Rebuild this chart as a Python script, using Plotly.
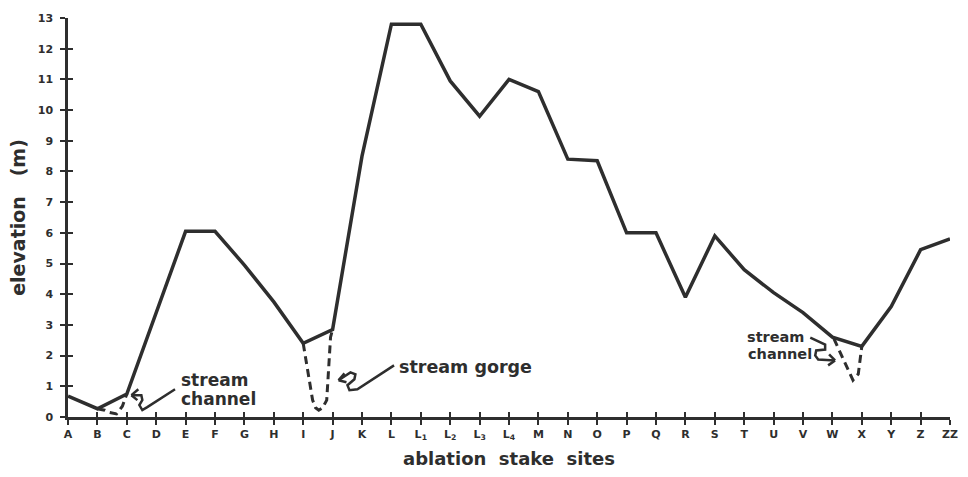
import plotly.graph_objects as go

sites = ["A","B","C","D","E","F","G","H","I","J","K","L",
         "L<sub>1</sub>","L<sub>2</sub>","L<sub>3</sub>","L<sub>4</sub>",
         "M","N","O","P","Q","R","S","T","U","V","W","X","Y","Z","ZZ"]
elevation = [0.68, 0.27, 0.75, 3.4, 6.05, 6.05, 4.95, 3.75, 2.4, 2.85, 8.5, 12.8,
             12.8, 10.95, 9.8, 11.0, 10.6, 8.4, 8.35, 6.0, 6.0, 3.9, 5.9, 4.8,
             4.05, 3.4, 2.6, 2.3, 3.6, 5.45, 5.8]
y_ticks = list(range(0, 14))

# dashed stream channel / gorge profiles (position index along sites, elevation m)
channel_bc_x = [1.0, 1.25, 1.4, 1.65, 1.85, 2.0]
channel_bc_y = [0.27, 0.22, 0.15, 0.1, 0.35, 0.75]
gorge_x = [8.0, 8.32, 8.42, 8.53, 8.66, 8.8, 8.93, 9.0]
gorge_y = [2.4, 0.55, 0.3, 0.22, 0.3, 0.55, 2.6, 2.85]
channel_x_x = [26.05, 26.45, 26.7, 26.88, 27.0]
channel_x_y = [2.55, 1.7, 1.2, 1.4, 2.3]

LINE = "#2e2e2e"
FONT = "DejaVu Sans"

L, R, T, B = 68, 10, 18, 57
W, H = 968, 477
XR = (0, len(sites) - 1)
YR = (0, 13)


def pd(px, py):
    """pixel -> data coordinates (for decorative arrows/labels)"""
    x = XR[0] + (px - L) / (W - L - R) * (XR[1] - XR[0])
    y = YR[0] + (H - B - py) / (H - T - B) * (YR[1] - YR[0])
    return x, y


def path(points):
    s = ""
    for i, (px, py) in enumerate(points):
        x, y = pd(px, py)
        s += ("M" if i == 0 else "L") + f"{x:.4f},{y:.4f} "
    return s


xs = list(range(len(sites)))
fig = go.Figure()
fig.add_trace(go.Scatter(x=xs, y=elevation, mode="lines",
                         line=dict(color=LINE, width=3.5), hoverinfo="skip"))
for dx, dy in [(channel_bc_x, channel_bc_y), (gorge_x, gorge_y), (channel_x_x, channel_x_y)]:
    fig.add_trace(go.Scatter(x=dx, y=dy, mode="lines",
                             line=dict(color=LINE, width=3, dash="8px,5px"),
                             hoverinfo="skip"))

# invisible trace on the secondary axes so the inner ticks render
fig.add_trace(go.Scatter(x=[0], y=[0], xaxis="x2", yaxis="y2", mode="markers",
                         marker=dict(opacity=0), hoverinfo="skip"))

shapes = []
arrow_paths = [
    # arrow to stream channel near C
    [(176, 392), (148, 410), (143, 413), (140, 408), (143, 403), (142, 398), (132, 398)],
    [(132, 398), (139, 392)], [(132, 398), (138, 403)],
    # arrow to stream gorge
    [(397, 368), (360, 392), (352, 393), (350, 388), (357, 382), (358, 377), (353, 375), (341, 383)],
    [(341, 383), (347, 376)], [(341, 383), (349, 385)],
    # arrow to stream channel near X
    [(817, 340), (832, 347), (832, 352), (823, 353), (822, 358), (825, 362), (842, 363)],
    [(842, 363), (836, 357)], [(842, 363), (835, 368)],
]
for pts in arrow_paths:
    shapes.append(dict(type="path", path=path(pts), xref="x", yref="y",
                       line=dict(color=LINE, width=2.5)))

fig.update_layout(
    width=W, height=H,
    margin=dict(l=L, r=R, t=T, b=B),
    paper_bgcolor="white", plot_bgcolor="white",
    showlegend=False,
    font=dict(family=FONT, color=LINE, size=12, weight="bold"),
    xaxis=dict(range=list(XR), tickvals=xs, ticktext=sites, showgrid=False, zeroline=False,
               showline=True, linecolor=LINE, linewidth=2.5, ticks="outside", ticklen=5,
               tickwidth=2, tickcolor=LINE, tickfont=dict(size=11, family=FONT, weight="bold"),
               title=dict(text="ablation  stake  sites", standoff=12,
                          font=dict(size=18, family=FONT, weight="bold"))),
    yaxis=dict(range=list(YR), tickvals=y_ticks, showgrid=False, zeroline=False,
               showline=True, linecolor=LINE, linewidth=2.5, ticks="outside", ticklen=5,
               tickwidth=2, tickcolor=LINE, ticklabelstandoff=5,
               tickfont=dict(size=11, family=FONT, weight="bold"),
               title=dict(text="elevation   (m)", standoff=8,
                          font=dict(size=19, family=FONT, weight="bold"))),
    xaxis2=dict(range=list(XR), overlaying="x", tickvals=xs, showticklabels=False,
                ticks="inside", ticklen=5, tickwidth=2, tickcolor=LINE, showgrid=False,
                zeroline=False, side="bottom", anchor="y"),
    yaxis2=dict(range=list(YR), overlaying="y", tickvals=y_ticks, showticklabels=False,
                ticks="inside", ticklen=5, tickwidth=2, tickcolor=LINE, showgrid=False,
                zeroline=False, side="left", anchor="x"),
    shapes=shapes,
)

labels = [
    (180, 383, "stream", 17, "left"),
    (180, 402, "channel", 17, "left"),
    (400, 370, "stream gorge", 17.5, "left"),
    (813, 339, "stream", 14.5, "right"),
    (821, 357, "channel", 14.5, "right"),
]
for (px, py, txt, size, anchor) in labels:
    x, y = pd(px, py)
    fig.add_annotation(x=x, y=y, xref="x", yref="y", text=txt, showarrow=False,
                       xanchor=anchor, yanchor="middle",
                       font=dict(size=size, family=FONT, color=LINE, weight="bold"))

fig.write_html("out.html")
